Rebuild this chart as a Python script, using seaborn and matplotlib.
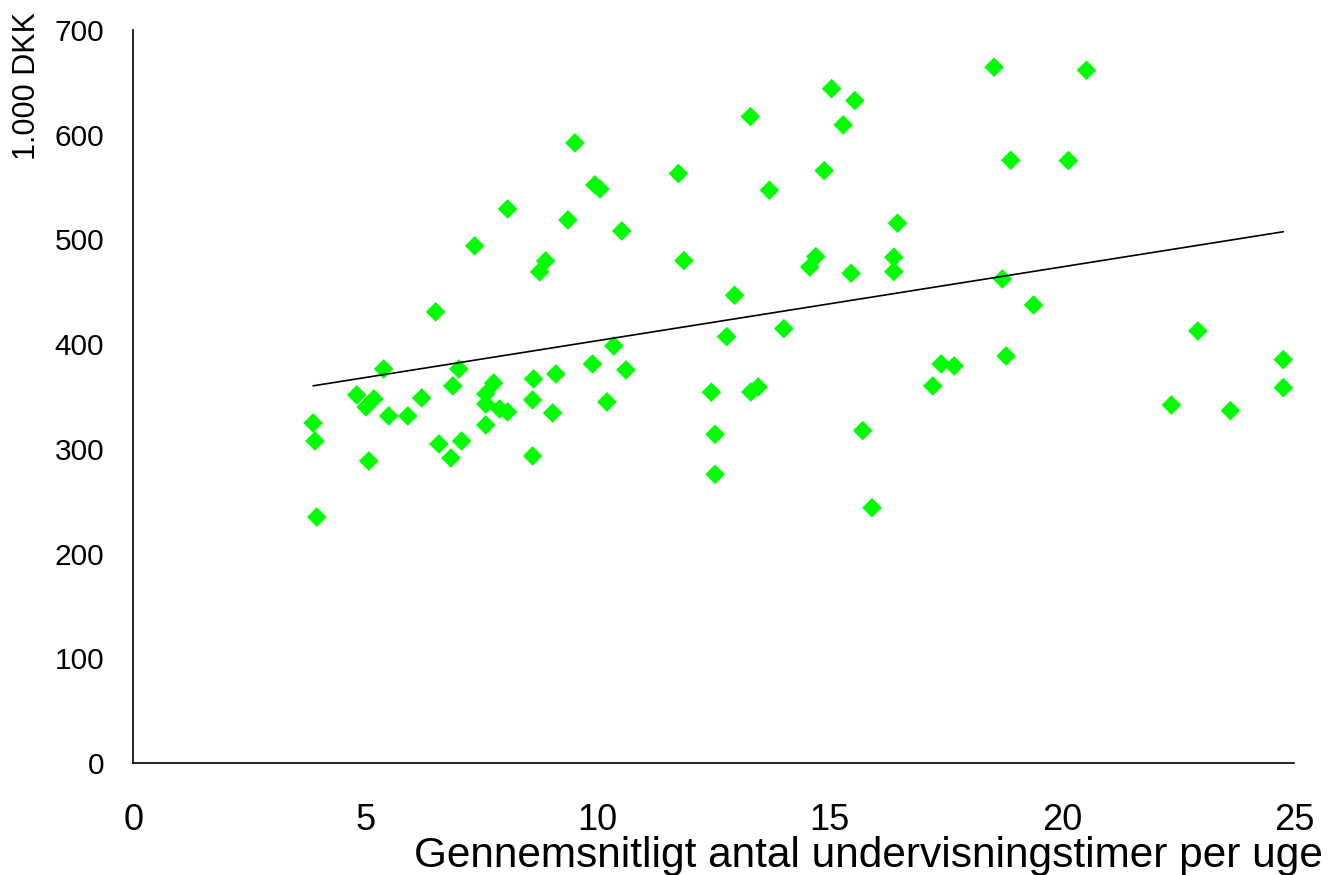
import pandas as pd
import seaborn as sns
import matplotlib
matplotlib.use("Agg")
import matplotlib.pyplot as plt
import numpy as np

# hours of teaching per week vs. salary (1.000 DKK)
hours = [3.87, 3.91, 3.95, 4.81, 5.01, 5.18, 5.07, 5.39, 5.50, 5.91,
         6.21, 6.51, 6.58, 6.88, 6.84, 7.01, 7.07, 7.35, 7.59, 7.59,
         7.76, 7.59, 7.89, 8.06, 8.06, 8.62, 8.60, 8.60, 8.75, 8.88,
         9.10, 9.03, 9.36, 9.51, 9.89, 9.94, 10.05, 10.20, 10.35, 10.52,
         10.61, 11.74, 11.86, 13.29, 12.95, 12.78, 12.45, 12.53, 12.53, 13.30,
         13.46, 13.70, 14.01, 14.57, 14.70, 14.88, 15.04, 15.29, 15.54, 15.46,
         15.71, 15.91, 16.46, 16.38, 16.38, 17.40, 17.68, 17.22, 18.54, 20.53,
         18.90, 20.14, 18.72, 19.39, 18.80, 22.93, 22.36, 23.63, 24.77, 24.77]
salary = [324.7, 307.5, 234.9, 351.5, 340.0, 347.7, 288.4, 376.3, 331.4, 331.4,
          348.6, 430.8, 304.7, 360.1, 291.3, 376.3, 307.5, 493.8, 342.9, 352.4,
          362.9, 322.8, 338.1, 335.2, 529.1, 366.8, 346.7, 293.2, 469.0, 479.5,
          371.5, 334.3, 518.6, 592.2, 381.1, 552.1, 548.2, 344.8, 398.3, 508.1,
          375.4, 562.9, 479.8, 617.3, 446.7, 407.2, 354.1, 313.9, 275.7, 354.3,
          359.1, 547.0, 414.8, 473.7, 483.6, 565.7, 644.0, 609.4, 632.6, 467.7,
          317.4, 243.8, 515.5, 483.0, 469.3, 381.1, 379.2, 360.1, 664.5, 661.6,
          575.6, 575.3, 462.3, 437.4, 388.7, 412.6, 341.9, 336.5, 385.2, 358.5]

xticks = [0, 5, 10, 15, 20, 25]
yticks = [0, 100, 200, 300, 400, 500, 600, 700]

df = pd.DataFrame({"hours": hours, "salary": salary})

sns.set_style("white")
plt.rcParams["font.family"] = ["Liberation Sans", "DejaVu Sans"]
plt.rcParams["text.color"] = "black"
plt.rcParams["axes.labelcolor"] = "black"
plt.rcParams["xtick.color"] = "black"
plt.rcParams["ytick.color"] = "black"

f = plt.figure(figsize=(13.28, 8.75), dpi=100)
ax = f.add_axes([0.1005, 0.128, 0.8739, 0.8377])

sns.scatterplot(data=df, x="hours", y="salary", marker="D", s=100,
                color="#00ff00", edgecolor="none", linewidth=0, ax=ax, clip_on=False, zorder=2)
sns.regplot(data=df, x="hours", y="salary", scatter=False, ci=None, truncate=True,
            color="black", line_kws={"linewidth": 1.2, "zorder": 3}, ax=ax)

ax.set_xlim(0, 25)
ax.set_ylim(0, 700)
ax.set_xticks(xticks)
ax.set_yticks(yticks)
ax.tick_params(axis="x", length=0, pad=29, labelsize=26)
ax.tick_params(axis="y", length=0, pad=21, labelsize=21.5)

ax.spines["top"].set_visible(False)
ax.spines["right"].set_visible(False)
for side in ["left", "bottom"]:
    ax.spines[side].set_linewidth(1.2)
    ax.spines[side].set_color("black")

ax.set_xlabel("Gennemsnitligt antal undervisningstimer per uge", fontsize=30.5, loc="right")
ax.xaxis.set_label_coords(1.025, -0.1)
ax.set_ylabel("1.000 DKK", fontsize=22, loc="top")
ax.yaxis.set_label_coords(-0.079, 1.025)

f.savefig("out.png", dpi=100)
